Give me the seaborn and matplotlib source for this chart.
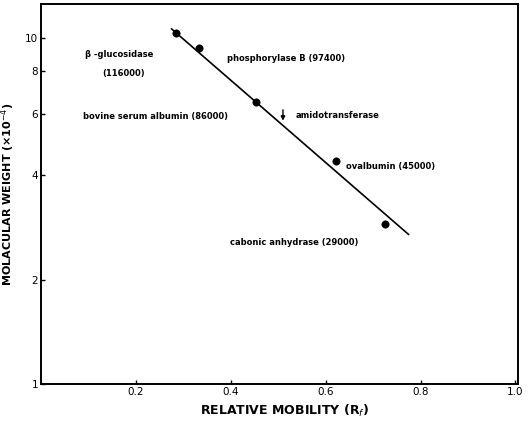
import numpy as np
import pandas as pd
import seaborn as sns
import matplotlib
matplotlib.use("Agg")
import matplotlib.pyplot as plt

# Marker proteins: relative mobility vs molecular weight (x10^-4)
mobility = [0.284, 0.332, 0.454, 0.622, 0.725]
mol_weight = [10.3, 9.3, 6.5, 4.4, 2.9]

# fitted line end points
fit_x = [0.275, 0.775]
fit_y = [10.6, 2.7]

# amidotransferase position on the line
amido_x = 0.51
amido_y = 5.65

x_ticks = [0.2, 0.4, 0.6, 0.8, 1.0]
x_tick_labels = ["0.2", "0.4", "0.6", "0.8", "1.0"]
y_ticks = [1, 2, 4, 6, 8, 10]
y_tick_labels = ["1", "2", "4", "6", "8", "10"]

labels = ["\u03b2 -glucosidase", "(116000)", "phosphorylase B (97400)",
          "bovine serum albumin (86000)", "amidotransferase",
          "ovalbumin (45000)", "cabonic anhydrase (29000)"]
label_x = [0.092, 0.130, 0.393, 0.088, 0.536, 0.643, 0.399]
label_y = [8.93, 7.87, 8.7, 5.91, 5.95, 4.24, 2.56]

sns.set_style("ticks")
plt.rcParams["font.family"] = ["DejaVu Sans"]
plt.rcParams["text.color"] = "black"
plt.rcParams["axes.labelcolor"] = "black"
plt.rcParams["xtick.color"] = "black"
plt.rcParams["ytick.color"] = "black"

df = pd.DataFrame({"Rf": mobility, "MW": mol_weight})
fit = pd.DataFrame({"Rf": fit_x, "MW": fit_y})

fig = plt.figure(figsize=(5.3, 4.26), dpi=100)
ax = fig.add_axes([0.0774, 0.0986, 0.8996, 0.892])

sns.lineplot(data=fit, x="Rf", y="MW", color="black", linewidth=1.2, ax=ax)
sns.scatterplot(data=df, x="Rf", y="MW", color="black", s=28,
                edgecolor="black", zorder=3, ax=ax)

ax.annotate("", xy=(amido_x, amido_y), xytext=(amido_x, 6.3),
            arrowprops=dict(arrowstyle="-|>", color="black", lw=1,
                            mutation_scale=6))

for t, x, y in zip(labels, label_x, label_y):
    ax.text(x, y, t, fontsize=6, fontweight="bold", ha="left", va="center")

ax.set_yscale("log")
ax.set_xlim(0, 1.005)
ax.set_ylim(1, 12.5)
ax.set_xticks(x_ticks)
ax.set_xticklabels(x_tick_labels)
ax.set_yticks(y_ticks)
ax.set_yticklabels(y_tick_labels)
ax.minorticks_off()
ax.tick_params(direction="in", length=3, width=1, labelsize=7.5, pad=2)

for sp in ax.spines.values():
    sp.set_linewidth(1.4)
    sp.set_color("black")

ax.set_xlabel("RELATIVE MOBILITY (R$_f$)", fontsize=9, fontweight="bold")
ax.xaxis.set_label_coords(0.51, -0.05)
ax.set_ylabel("MOLACULAR WEIGHT (\u00d710$^{-4}$)", fontsize=8,
              fontweight="bold")
ax.yaxis.set_label_coords(-0.05, 0.5)

fig.savefig("out.png", dpi=100)
